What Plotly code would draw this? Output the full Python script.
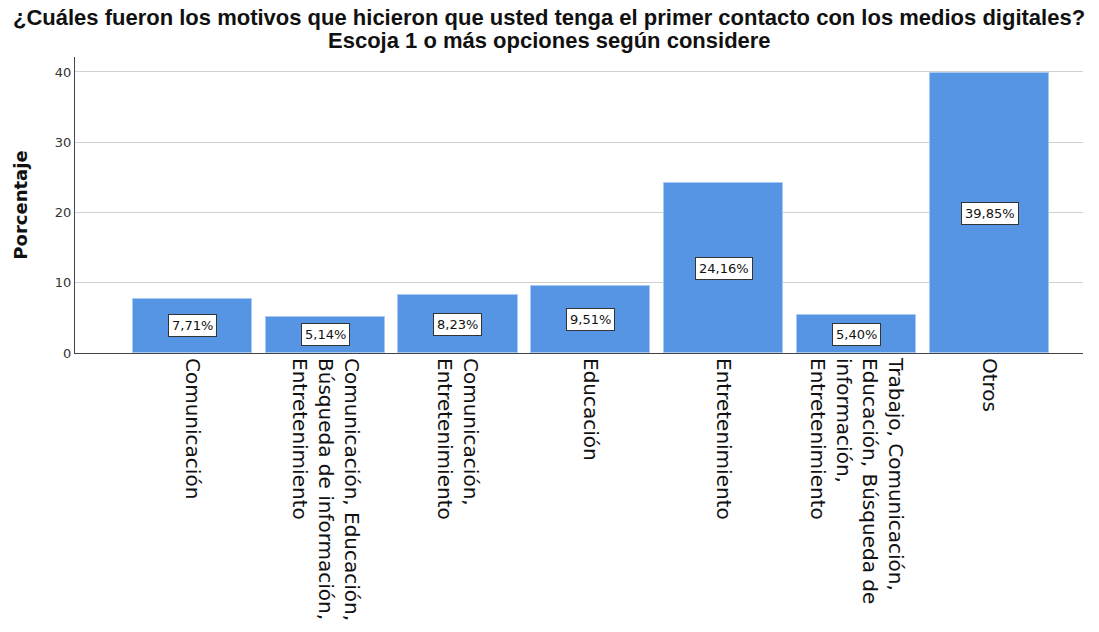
import plotly.graph_objects as go

# Categories (motives) and their percentages
categorias = [
    "Comunicación",
    "Comunicación, Educación,<br>Búsqueda de información,<br>Entretenimiento",
    "Comunicación,<br>Entretenimiento",
    "Educación",
    "Entretenimiento",
    "Trabajo, Comunicación,<br>Educación, Búsqueda de<br>información,<br>Entretenimiento",
    "Otros",
]
porcentajes = [7.71, 5.14, 8.23, 9.51, 24.16, 5.40, 39.85]
etiquetas = ["7,71%", "5,14%", "8,23%", "9,51%", "24,16%", "5,40%", "39,85%"]
ticks_y = [0, 10, 20, 30, 40]
titulo = [
    "¿Cuáles fueron los motivos que hicieron que usted tenga el primer contacto con los medios digitales?",
    "Escoja 1 o más opciones según considere",
]

x_idx = list(range(len(categorias)))

fig = go.Figure()
fig.add_trace(go.Bar(
    x=x_idx,
    y=porcentajes,
    width=0.895,
    marker=dict(color="#5595E3", line=dict(color="#A9C9F2", width=1)),
    hoverinfo="skip",
))

# Value boxes centred at half the bar height
for xi, v, t in zip(x_idx, porcentajes, etiquetas):
    fig.add_annotation(
        x=xi, y=v / 2, text=t, showarrow=False,
        font=dict(family="DejaVu Sans", size=13, color="#111111"),
        bgcolor="white", bordercolor="#333333", borderwidth=1, borderpad=3,
    )

# Two-line chart title, centred on the page
title_font = dict(family="Liberation Sans Narrow, Arial Narrow, sans-serif",
                  size=22, color="#111111", weight="bold")
for line, ypos in zip(titulo, [1.1318, 1.0574]):
    fig.add_annotation(
        text=line, xref="paper", yref="paper", x=0.4707, y=ypos,
        xanchor="center", yanchor="middle", showarrow=False, font=title_font,
    )

fig.update_layout(
    width=1099, height=632,
    margin=dict(l=75, r=16, t=57, b=279),
    plot_bgcolor="white", paper_bgcolor="white",
    showlegend=False,
    bargap=0,
)

fig.update_xaxes(
    range=[-0.88, 6.70],
    tickmode="array", tickvals=x_idx, ticktext=categorias,
    tickangle=90,
    tickfont=dict(family="DejaVu Sans", size=20, color="#111111"),
    showline=True, linecolor="#444444", linewidth=1,
    ticks="", showgrid=False, automargin=False,
)

fig.update_yaxes(
    range=[0, 42.13],
    tickmode="array", tickvals=ticks_y,
    tickfont=dict(family="DejaVu Sans", size=13, color="#333333"),
    showline=True, linecolor="#444444", linewidth=1,
    showgrid=True, gridcolor="#D0D0D0", gridwidth=1,
    ticks="", zeroline=False, automargin=False,
    title=dict(text="Porcentaje", standoff=22,
               font=dict(family="DejaVu Sans", size=18, color="#111111", weight="bold")),
)

fig.write_html("out.html")
